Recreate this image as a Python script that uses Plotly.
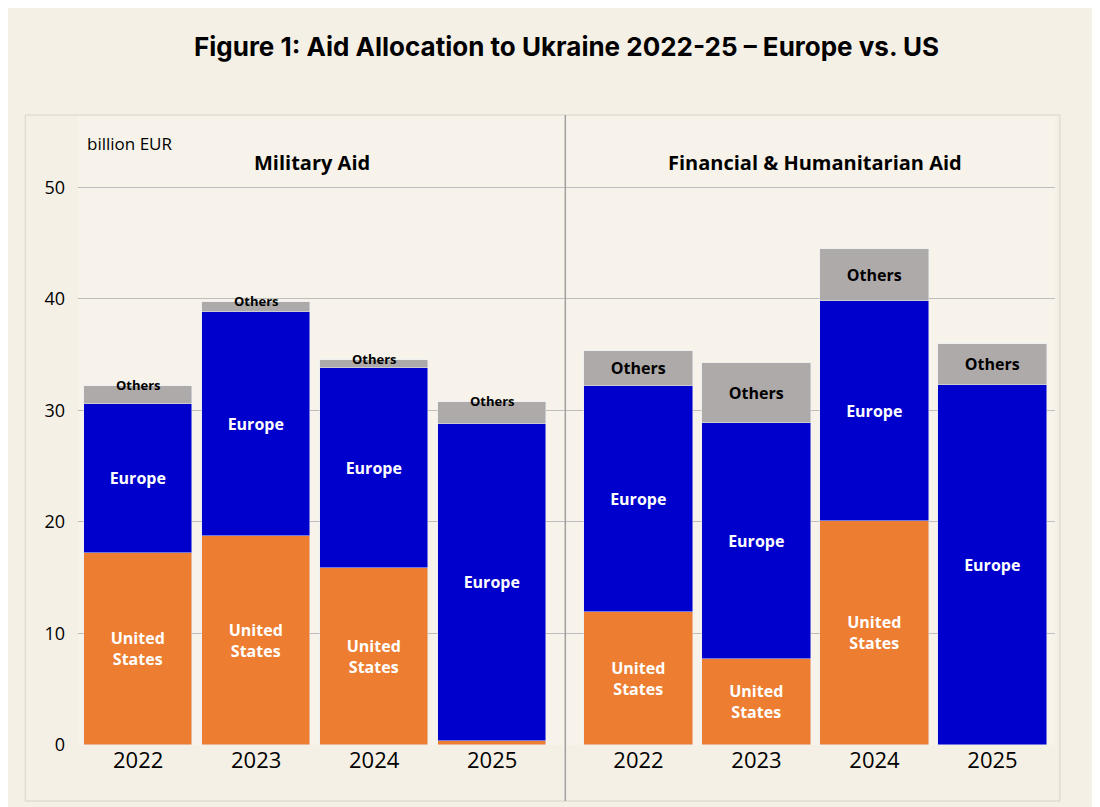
import plotly.graph_objects as go

years = ["2022", "2023", "2024", "2025"]
# billion EUR
mil_us = [17.2, 18.7, 15.9, 0.4]
mil_eu = [13.4, 20.1, 17.9, 28.4]
mil_oth = [1.6, 0.9, 0.7, 2.0]
fin_us = [11.9, 7.7, 20.1, 0.0]
fin_eu = [20.3, 21.2, 19.7, 32.3]
fin_oth = [3.1, 5.4, 4.7, 3.7]

x_mil = [0, 1, 2, 3]
x_fin = [4.24, 5.24, 6.24, 7.24]
xs = x_mil + x_fin
us = mil_us + fin_us
eu = mil_eu + fin_eu
oth = mil_oth + fin_oth

font = "Open Sans"
fig = go.Figure()
fig.add_bar(x=xs, y=us, marker_color="#ED7D31", width=0.92,
            text=["United<br>States" if v > 1 else "" for v in us],
            textposition="inside", insidetextanchor="middle",
            textfont=dict(color="white", size=16, family=font, weight="bold"))
fig.add_bar(x=xs, y=eu, marker_color="#0000CC", width=0.92,
            text=["Europe"] * 8, textposition="inside", insidetextanchor="middle",
            textfont=dict(color="white", size=16, family=font, weight="bold"))
fig.add_bar(x=xs, y=oth, marker_color="#AEAAAA", width=0.92,
            text=[""] * 4 + ["Others"] * 4, textposition="inside", insidetextanchor="middle",
            textfont=dict(color="black", size=16, family=font, weight="bold"))

# small "Others" labels on the military bars
for xi, a, b, c in zip(x_mil, mil_us, mil_eu, mil_oth):
    fig.add_annotation(x=xi, y=a + b + c, text="<b>Others</b>", showarrow=False,
                       yanchor="middle", yshift=1, font=dict(size=13, family=font, color="black"))

fig.update_layout(
    barmode="stack", bargap=0, showlegend=False,
    width=1100, height=807,
    paper_bgcolor="#F5F0E6", plot_bgcolor="#F7F3EA",
    margin=dict(l=70, r=53, t=107, b=70),
    font=dict(family=font, color="black"),
    uniformtext=dict(minsize=13, mode="show"),
    title=dict(text="<b>Figure 1: Aid Allocation to Ukraine 2022-25 – Europe vs. US</b>",
               x=0.5, xref="paper", y=0.952, yanchor="middle",
               font=dict(family="Inter", size=26, color="black")),
)
fig.update_xaxes(range=[-0.51, 7.77], tickvals=xs, ticktext=years * 2,
                 tickfont=dict(size=22), showgrid=False, zeroline=False)
fig.update_yaxes(range=[0, 56.5], tickvals=[0, 10, 20, 30, 40, 50], tickfont=dict(size=18),
                 showgrid=True, gridcolor="#BDBDBD", zeroline=False, ticklabelstandoff=12)

fig.add_shape(type="rect", xref="paper", yref="paper", x0=-0.054, x1=1.005, y0=-0.089, y1=1,
              line=dict(color="#D8D3C8", width=1), layer="below")
fig.add_shape(type="line", xref="x", yref="paper", x0=3.62, x1=3.62, y0=-0.089, y1=1,
              line=dict(color="#A0A0A0", width=1.5))

fig.add_annotation(xref="paper", yref="paper", x=0.007, y=0.955, text="billion EUR",
                   showarrow=False, xanchor="left", yanchor="middle", font=dict(size=17))
fig.add_annotation(x=1.47, yref="paper", y=0.925, text="<b>Military Aid</b>",
                   showarrow=False, yanchor="middle", font=dict(size=20))
fig.add_annotation(x=5.74, yref="paper", y=0.925, text="<b>Financial &amp; Humanitarian Aid</b>",
                   showarrow=False, yanchor="middle", font=dict(size=20))

fig.write_html("out.html")
